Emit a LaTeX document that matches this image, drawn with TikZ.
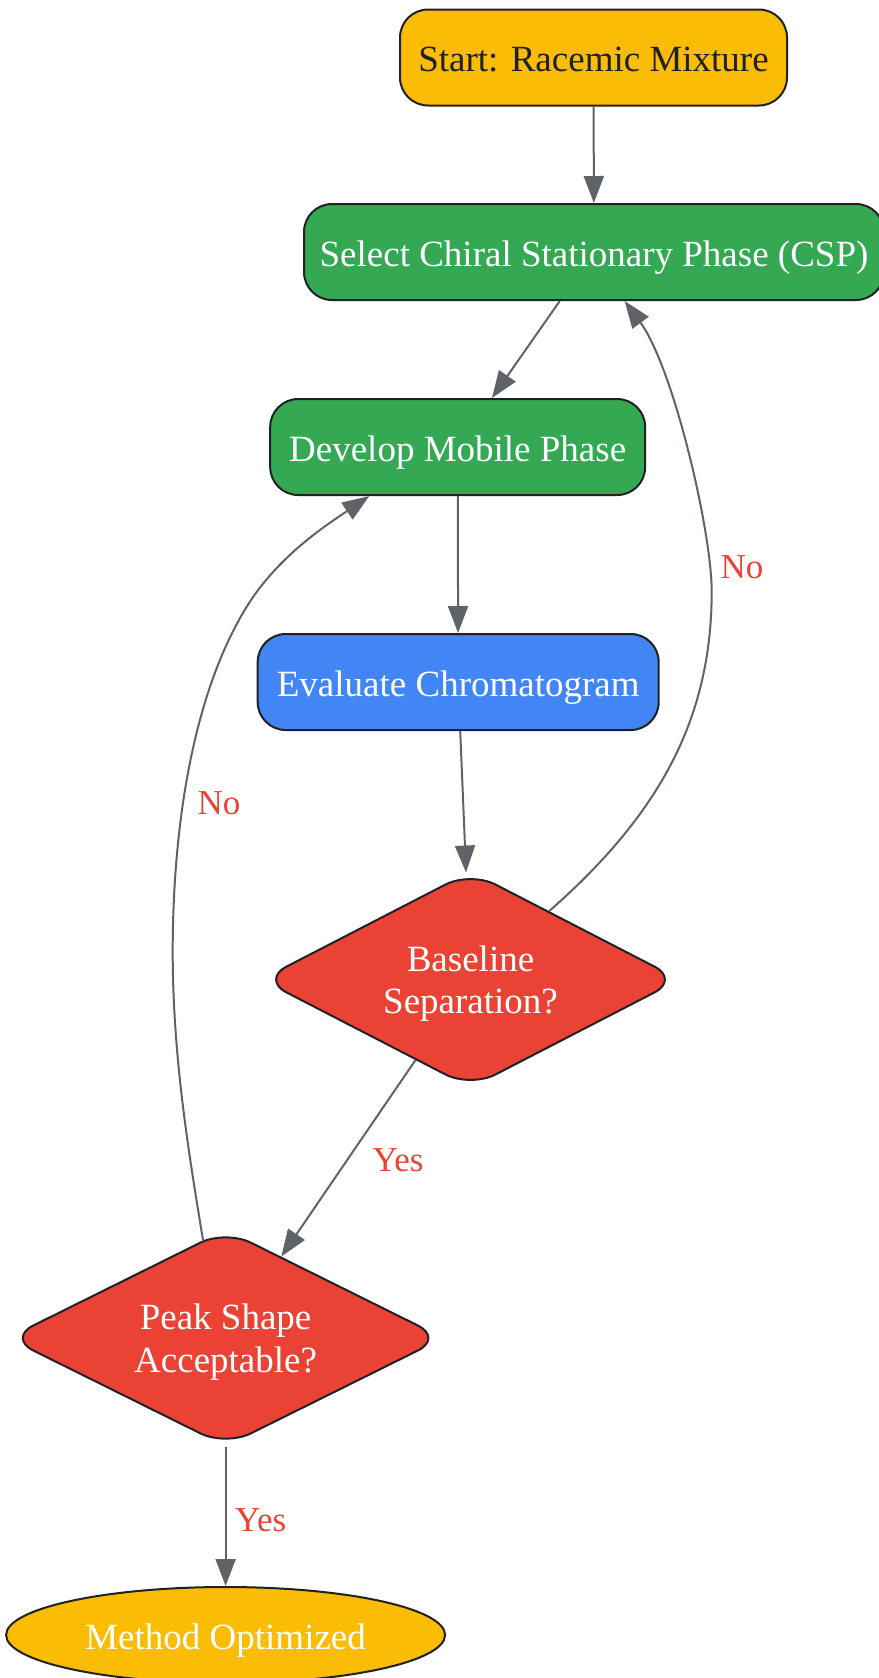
\documentclass[tikz,border=0pt]{standalone}
\usepackage{fontspec}
\setmainfont{Liberation Serif}
\usetikzlibrary{shapes.geometric,arrows.meta}
\definecolor{gyellow}{HTML}{FBBC05}
\definecolor{ggreen}{HTML}{34A853}
\definecolor{gblue}{HTML}{4285F4}
\definecolor{gred}{HTML}{EA4335}
\definecolor{gdark}{HTML}{202124}
\definecolor{gedge}{HTML}{5F6368}

\begin{document}
\begin{tikzpicture}[x=0.5pt,y=-0.5pt,
    nodebase/.style={draw=gdark,line width=1pt,
                     font=\fontsize{18.5}{22}\selectfont,
                     text=white,inner sep=0pt,
                     text height=14pt,text depth=0pt},
    box/.style={nodebase,rectangle,rounded corners=14pt,minimum height=48pt},
    decision/.style={nodebase,diamond,shape aspect=2,rounded corners=14pt,
                     fill=gred,align=center,
                     font=\fontsize{18.5}{21.2}\selectfont,
                     text height={},text depth=0pt,
                     minimum width=209.4pt,minimum height=108.3pt},
    flow/.style={draw=gedge,line width=1pt,
                 -{Triangle[length=13.5pt,width=10pt]}},
    lbl/.style={text=gred,font=\fontsize{17.5}{20}\selectfont}]
            \useasboundingbox (0,0) rectangle (879,1678);

            \node[box,fill=gyellow,text=gdark,minimum width=193.5pt] (start) at (593.5,57.5) {Start: Racemic Mixture};
            \node[box,fill=ggreen,minimum width=290pt] (csp) at (594,252) {Select Chiral Stationary Phase (CSP)};
            \node[box,fill=ggreen,minimum width=187.5pt] (mobile) at (457.7,447) {Develop Mobile Phase};
            \node[box,fill=gblue,minimum width=200.5pt] (evaluate) at (458.2,682) {Evaluate Chromatogram};
            \node[decision] (baseline) at (470.5,979.5) {Baseline\\Separation?};
            \node[decision,minimum width=217.9pt] (peak) at (225.6,1338) {Peak Shape\\Acceptable?};
            \node[nodebase,ellipse,fill=gyellow,
                  minimum width=219.5pt,minimum height=48pt] (done) at (225.6,1635) {Method Optimized};

            \draw[flow] (start) -- (csp);
            \draw[flow] (csp) -- (mobile);
            \draw[flow] (mobile) -- (evaluate);
            \draw[flow] (evaluate) -- (baseline);
            \draw[flow] (baseline) -- (peak);
            \draw[flow] (peak) -- (done);
            \draw[flow] (baseline.41) .. controls (656.7,816.6) and (711.7,721.5) .. (711.7,591.5)
                        .. controls (711.7,531.5) and (673.4,367.4) .. (csp.302);
            \draw[flow] (peak.103) .. controls (190,1160) and (172.7,1060) .. (172.7,952)
                        .. controls (172.7,822) and (194.1,691.8) .. (246.7,606.7)
                        .. controls (278.3,555.6) and (328,524) .. (mobile.209);

            \node[lbl] (noCsp) at (742,567) {No};
            \node[lbl] (noMobile) at (219,803) {No};
            \node[lbl] (yesPeak) at (398,1160) {Yes};
            \node[lbl] (yesDone) at (260.7,1520) {Yes};
        \end{tikzpicture}
\end{document}
